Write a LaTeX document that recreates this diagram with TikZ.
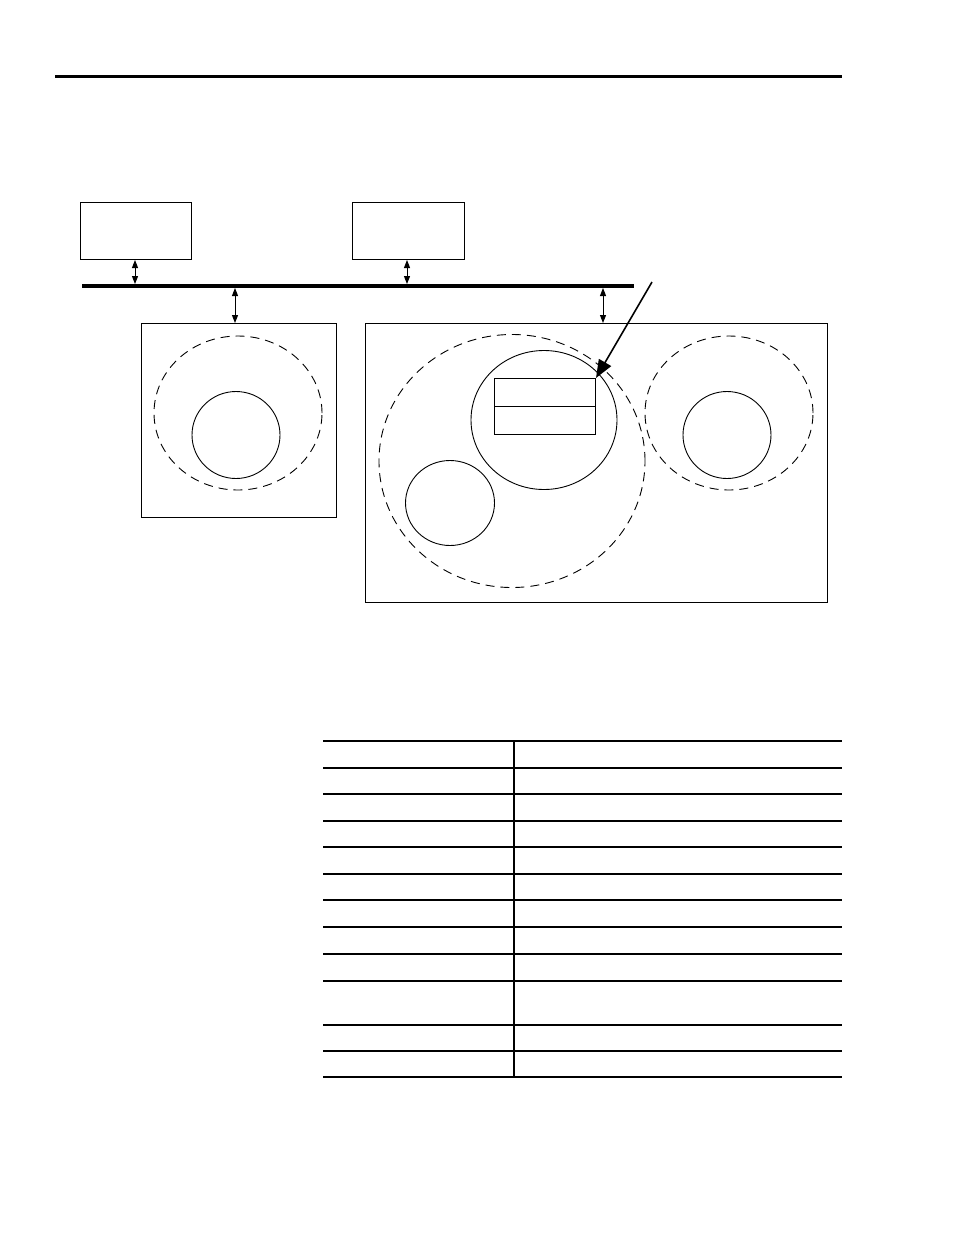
\documentclass[tikz,border=0pt]{standalone}
\usetikzlibrary{arrows.meta,shapes.geometric}
\begin{document}
\begin{tikzpicture}[x=1pt,y=-1pt,
  box/.style={draw,line width=1pt,inner sep=0pt,anchor=north west},
  ell/.style={draw,ellipse,line width=0.9pt,inner sep=0pt},
  dash ell/.style={ell,dash pattern=on 9pt off 6pt},
  dbl/.style={line width=1pt,{Triangle[length=8pt,width=6pt]}-{Triangle[length=8pt,width=6pt]}},
  rule/.style={line width=1.2pt}]
\useasboundingbox (0,0) rectangle (954,1235);
% top rule
\coordinate (tl) at (55,76); \coordinate (tr) at (842,76);
\draw[line width=3pt] (tl) -- (tr);
% top boxes
\node[box,minimum width=111pt,minimum height=57pt] (b1) at (80,202) {};
\node[box,minimum width=112pt,minimum height=57pt] (b2) at (352,202) {};
% bus
\coordinate (busL) at (82,286); \coordinate (busR) at (634,286);
\draw[line width=4pt] (busL) -- (busR);
\coordinate (a1) at (135,284); \coordinate (a2) at (407,284);
\coordinate (a3) at (235,288); \coordinate (a4) at (603,288);
\draw[dbl] (b1.south -| a1) -- (a1);
\draw[dbl] (b2.south -| a2) -- (a2);
% lower boxes
\node[box,minimum width=195pt,minimum height=194pt] (lb) at (141,323) {};
\node[box,minimum width=462pt,minimum height=279pt] (rb) at (365,323) {};
\draw[dbl] (a3) -- (a3 |- lb.north);
\draw[dbl] (a4) -- (a4 |- rb.north);
% left box contents
\node[dash ell,minimum width=168pt,minimum height=154pt] (le) at (238,413) {};
\node[ell,minimum width=88pt,minimum height=87pt] (lc) at (236,435) {};
% right box contents
\node[dash ell,minimum width=266pt,minimum height=253pt] (be) at (512,461) {};
\node[ell,minimum width=146pt,minimum height=139pt] (ic) at (544,420) {};
\node[box,minimum width=101pt,minimum height=28pt] (r1) at (494,378) {};
\node[box,minimum width=101pt,minimum height=28pt] (r2) at (494,406) {};
\node[ell,minimum width=89pt,minimum height=85pt] (sc) at (450,503) {};
\node[dash ell,minimum width=168pt,minimum height=154pt] (re) at (729,413) {};
\node[ell,minimum width=88pt,minimum height=87pt] (rc) at (727,435) {};
% pointer arrow
\coordinate (ps) at (652,282);
\draw[line width=1.6pt,-{Triangle[length=18pt,width=14pt]}] (ps) -- (r1.north east);
% table
\coordinate (t0) at (323,741);
\draw[rule] (323,741) -- (842,741);
\draw[line width=2pt] (323,767.5) -- (842,767.5);
\foreach \yy in {794,821,847,874,900,927,954,981,1025,1051}
  \draw[rule] (323,\yy) -- (842,\yy);
\draw[line width=2pt] (323,1077) -- (842,1077);
\draw[rule] (514,741) -- (514,1077);
\end{tikzpicture}
\end{document}
